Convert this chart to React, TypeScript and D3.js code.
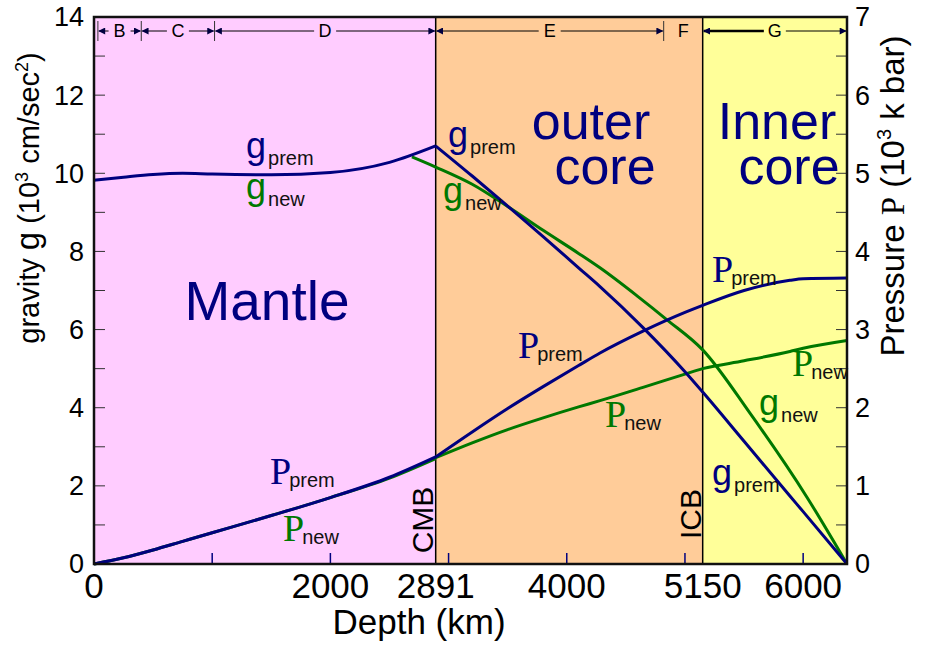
import React from 'react';
import * as d3 from 'd3';

// depth (km) samples
const mantleDepth = [0, 250, 500, 750, 1000, 1500, 2000, 2500, 2891];
const coreDepth = [2891, 3200, 3500, 3800, 4100, 4281, 4645, 5000, 5150, 5500, 5888, 6000, 6371];
const gNewDepth = [2690, 2891, 3200, 3500, 3800, 4100, 4281, 4600, 4848, 5150, 5550, 6032, 6371];

// gravity (10^3 cm/sec^2)
const gPremMantle = [9.82, 9.9, 9.97, 10.0, 9.98, 9.96, 10.02, 10.28, 10.7];
const gPremCore = [10.7, 9.93, 9.16, 8.38, 7.58, 7.1, 6.05, 4.92, 4.4, 3.14, 1.74, 1.34, 0];
const gNew = [10.42, 10.16, 9.72, 9.15, 8.54, 7.95, 7.58, 6.85, 6.25, 5.48, 3.86, 1.71, 0];

// pressure (10^3 kbar)
const pPremMantle = [0, 0.08, 0.18, 0.29, 0.4, 0.62, 0.85, 1.11, 1.37];
const pNewMantle = [0, 0.08, 0.18, 0.29, 0.4, 0.62, 0.85, 1.1, 1.35];
const pPremCore = [1.37, 1.69, 1.99, 2.27, 2.54, 2.7, 2.98, 3.22, 3.31, 3.5, 3.63, 3.65, 3.66];
const pNewCore = [1.36, 1.55, 1.72, 1.87, 2.01, 2.09, 2.26, 2.43, 2.5, 2.6, 2.72, 2.76, 2.86];

// regions and layers
const regionStart = [0, 2891, 5150];
const regionEnd = [2891, 5150, 6371];
const regionFill = ['#ffccff', '#ffcc99', '#ffff99'];

const layerNames = ['B', 'C', 'D', 'E', 'F', 'G'];
const layerStart = [33, 400, 1020, 2891, 4820, 5150];
const layerEnd = [400, 1020, 2891, 4820, 5150, 6371];
const layerTicks = [33, 400, 1020, 4820];

const xTickValues = [1000, 2000, 3000, 4000, 5000, 6000];
const xTickLabels = [0, 2000, 2891, 4000, 5150, 6000];
const gTicks = d3.range(0, 15, 2);
const pTicks = d3.range(0, 8, 1);

const NAVY = '#00007f';
const GREEN = '#007800';
const SANS = '"Liberation Sans", Arial, sans-serif';
const SERIF = '"Liberation Serif", "Times New Roman", serif';

const x = d3.scaleLinear().domain([0, 6371]).range([94, 847]);
const yG = d3.scaleLinear().domain([0, 14]).range([564, 17]);
const yP = d3.scaleLinear().domain([0, 7]).range([564, 17]);

const lineG = d3.line<[number, number]>().x(d => x(d[0])).y(d => yG(d[1])).curve(d3.curveMonotoneX);
const lineP = d3.line<[number, number]>().x(d => x(d[0])).y(d => yP(d[1])).curve(d3.curveMonotoneX);

const gPath = (ds: number[], vs: number[]) => lineG(d3.zip(ds, vs) as [number, number][]) || '';
const pPath = (ds: number[], vs: number[]) => lineP(d3.zip(ds, vs) as [number, number][]) || '';

const Sym = ({ px, py, main, sub, color }: { px: number; py: number; main: string; sub: string; color: string }) => {
  const serif = main === 'P';
  return (
    <text x={px} y={py}>
      <tspan fill={color} fontFamily={serif ? SERIF : SANS} fontSize={serif ? 38 : 36}>{main}</tspan>
      <tspan fill="#111" fontFamily={SANS} fontSize={20} dx={serif ? -2 : 2} dy={serif ? 3 : 7}>{sub}</tspan>
    </text>
  );
};

const LayerArrow = ({ i }: { i: number }) => {
  const x0 = x(layerStart[i]);
  const x1 = x(layerEnd[i]);
  const cx = (x0 + x1) / 2;
  const name = layerNames[i];
  const yy = 31;
  if (name === 'F') {
    return <text x={cx} y={yy + 6} textAnchor="middle" fontFamily={SANS} fontSize={18}>{name}</text>;
  }
  const gap = 11;
  return (
    <g>
      <line x1={x0 + 1} x2={cx - gap} y1={yy} y2={yy} stroke="#000" strokeWidth={name === 'G' ? 2.5 : 1}
        markerStart="url(#arrL)" />
      <line x1={cx + gap} x2={x1 - 1} y1={yy} y2={yy} stroke="#000" strokeWidth={1} markerEnd="url(#arrR)" />
      <text x={cx} y={yy + 6} textAnchor="middle" fontFamily={SANS} fontSize={18}>{name}</text>
    </g>
  );
};

const App = () => {
  const left = x(0);
  const right = x(6371);
  const top = yG(14);
  const bottom = yG(0);

  return (
    <svg width={933} height={646} style={{ position: 'absolute', left: 0, top: 0, background: '#fff' }}>
      <defs>
        <marker id="arrL" viewBox="0 0 10 10" refX="1" refY="5" markerWidth="9" markerHeight="7"
          markerUnits="userSpaceOnUse" orient="auto">
          <path d="M10,0 L0,5 L10,10 z" fill="#000040" />
        </marker>
        <marker id="arrR" viewBox="0 0 10 10" refX="9" refY="5" markerWidth="9" markerHeight="7"
          markerUnits="userSpaceOnUse" orient="auto">
          <path d="M0,0 L10,5 L0,10 z" fill="#000040" />
        </marker>
      </defs>

      {/* region backgrounds */}
      {regionStart.map((s, i) => (
        <rect key={i} x={x(s)} y={top} width={x(regionEnd[i]) - x(s)} height={bottom - top} fill={regionFill[i]} />
      ))}

      {/* CMB / ICB boundaries */}
      <line x1={x(2891)} x2={x(2891)} y1={top} y2={bottom} stroke="#000" strokeWidth={1.5} />
      <line x1={x(5150)} x2={x(5150)} y1={top} y2={bottom} stroke="#000" strokeWidth={1.5} />

      {/* layer bar */}
      {layerTicks.map((d, i) => (
        <line key={i} x1={x(d)} x2={x(d)} y1={21} y2={41} stroke="#333" strokeWidth={1} />
      ))}
      {layerNames.map((_, i) => <LayerArrow key={i} i={i} />)}

      {/* inner ticks */}
      {d3.range(1, 14).map(v => (
        <g key={v}>
          <line x1={left} x2={left + 11} y1={yG(v)} y2={yG(v)} stroke="#333" strokeWidth={1} />
          <line x1={right - 11} x2={right} y1={yG(v)} y2={yG(v)} stroke="#333" strokeWidth={1} />
        </g>
      ))}
      {xTickValues.map(v => (
        <line key={v} x1={x(v)} x2={x(v)} y1={bottom} y2={bottom - 11} stroke={NAVY} strokeWidth={1.5} />
      ))}

      {/* curves */}
      <path d={pPath(mantleDepth, pNewMantle)} fill="none" stroke={GREEN} strokeWidth={3} />
      <path d={pPath(coreDepth, pNewCore)} fill="none" stroke={GREEN} strokeWidth={3} />
      <path d={gPath(gNewDepth, gNew)} fill="none" stroke={GREEN} strokeWidth={3} />
      <path d={pPath(mantleDepth, pPremMantle)} fill="none" stroke={NAVY} strokeWidth={3} />
      <path d={pPath(coreDepth, pPremCore)} fill="none" stroke={NAVY} strokeWidth={3} />
      <path d={gPath(mantleDepth, gPremMantle)} fill="none" stroke={NAVY} strokeWidth={3} />
      <path d={gPath(coreDepth, gPremCore)} fill="none" stroke={NAVY} strokeWidth={3} />

      {/* frame */}
      <rect x={left} y={top} width={right - left} height={bottom - top} fill="none" stroke="#111" strokeWidth={2.5} />

      {/* region names */}
      <g fill={NAVY} fontFamily={SANS} textAnchor="middle">
        <text x={267} y={320} fontSize={55}>Mantle</text>
        <text x={591} y={139} fontSize={52}>
          outer<tspan x={605} dy={45}>core</tspan>
        </text>
        <text x={777} y={139} fontSize={52}>
          Inner<tspan x={789} dy={45}>core</tspan>
        </text>
      </g>

      <g fontFamily={SANS} fontSize={30} fill="#000">
        <text transform={`translate(433,520) rotate(-90)`} textAnchor="middle">CMB</text>
        <text transform={`translate(701,514) rotate(-90)`} textAnchor="middle">ICB</text>
      </g>

      {/* curve labels */}
      <Sym px={246} py={158} main="g" sub="prem" color={NAVY} />
      <Sym px={246} py={199} main="g" sub="new" color={GREEN} />
      <Sym px={448} py={147} main="g" sub="prem" color={NAVY} />
      <Sym px={443} py={203} main="g" sub="new" color={GREEN} />
      <Sym px={270} py={484} main="P" sub="prem" color={NAVY} />
      <Sym px={283} py={541} main="P" sub="new" color={GREEN} />
      <Sym px={518} py={358} main="P" sub="prem" color={NAVY} />
      <Sym px={605} py={427} main="P" sub="new" color={GREEN} />
      <Sym px={712} py={282} main="P" sub="prem" color={NAVY} />
      <Sym px={792} py={376} main="P" sub="new" color={GREEN} />
      <Sym px={759} py={415} main="g" sub="new" color={GREEN} />
      <Sym px={712} py={485} main="g" sub="prem" color={NAVY} />

      {/* axis tick labels */}
      <g fontFamily={SANS} fontSize={27} fill="#000">
        {gTicks.map(v => (
          <text key={v} x={84} y={yG(v)} dy="0.35em" textAnchor="end">{v}</text>
        ))}
        {pTicks.map(v => (
          <text key={v} x={855} y={yP(v)} dy="0.35em" textAnchor="start">{v}</text>
        ))}
      </g>
      <g fontFamily={SANS} fontSize={35} fill="#000" textAnchor="middle">
        {xTickLabels.map(v => (
          <text key={v} x={x(v)} y={598}>{v}</text>
        ))}
        <text x={419} y={634}>Depth (km)</text>
      </g>

      {/* axis titles */}
      <text transform="translate(39,198) rotate(-90)" textAnchor="middle" fontFamily={SANS} fontSize={29}>
        gravity <tspan fontSize={33}>g</tspan> (10<tspan fontSize={18} dy={-11}>3</tspan>
        <tspan dy={11}> cm/sec</tspan><tspan fontSize={18} dy={-11}>2</tspan><tspan dy={11}>)</tspan>
      </text>
      <text transform="translate(904,196) rotate(-90)" textAnchor="middle" fontFamily={SANS} fontSize={33}>
        Pressure <tspan fontFamily={SERIF}>P</tspan> (10<tspan fontSize={20} dy={-13}>3</tspan>
        <tspan dy={13}> k bar)</tspan>
      </text>
    </svg>
  );
};

export default App;
